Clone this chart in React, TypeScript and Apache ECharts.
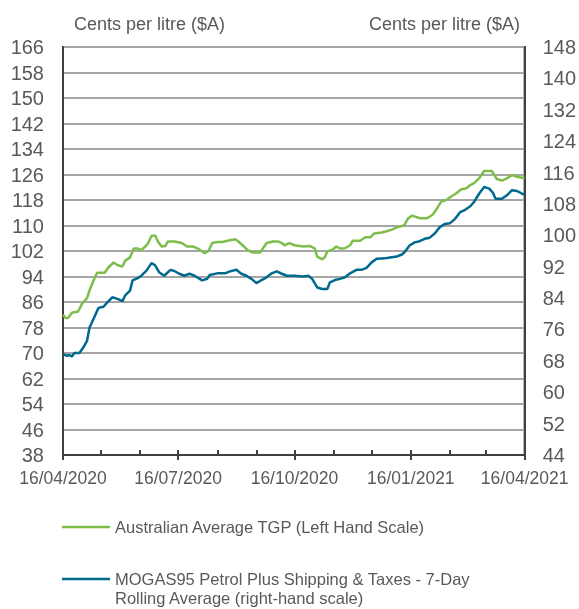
import React, { useEffect, useRef } from "react";
import * as echarts from "echarts";

// Australian Average TGP (left-hand scale), c/L
const tgpDates = [
  "2020-04-16","2020-04-18","2020-04-20","2020-04-23","2020-04-28","2020-05-01","2020-05-05","2020-05-07",
  "2020-05-11","2020-05-13","2020-05-19","2020-05-22","2020-05-26","2020-05-29","2020-06-02","2020-06-04",
  "2020-06-08","2020-06-11","2020-06-14","2020-06-17","2020-06-20","2020-06-22","2020-06-25","2020-06-28",
  "2020-06-30","2020-07-03","2020-07-06","2020-07-08","2020-07-13","2020-07-19","2020-07-23","2020-07-28",
  "2020-08-01","2020-08-06","2020-08-09","2020-08-12","2020-08-16","2020-08-20","2020-08-24","2020-08-30",
  "2020-09-01","2020-09-05","2020-09-09","2020-09-13","2020-09-19","2020-09-21","2020-09-24","2020-09-29",
  "2020-10-03","2020-10-06","2020-10-08","2020-10-12","2020-10-16","2020-10-23","2020-10-28","2020-11-01",
  "2020-11-03","2020-11-07","2020-11-09","2020-11-11","2020-11-15","2020-11-18","2020-11-21","2020-11-25",
  "2020-11-29","2020-12-01","2020-12-07","2020-12-11","2020-12-15","2020-12-18","2020-12-24","2020-12-28",
  "2021-01-01","2021-01-05","2021-01-09","2021-01-11","2021-01-14","2021-01-17","2021-01-21","2021-01-23",
  "2021-01-29","2021-02-02","2021-02-05","2021-02-09","2021-02-13","2021-02-17","2021-02-21","2021-02-25",
  "2021-03-01","2021-03-04","2021-03-07","2021-03-11","2021-03-15","2021-03-21","2021-03-25","2021-03-29",
  "2021-04-02","2021-04-06","2021-04-10","2021-04-16"
];
const tgpValues = [
  82, 81, 81, 82.6, 83, 85.4, 87.2, 89.7,
  93.5, 95.2, 95.2, 96.9, 98.4, 97.6, 97.1, 98.9,
  100, 102.8, 102.8, 102.3, 103.4, 104.2, 106.8, 106.8,
  105, 103.4, 103.6, 105, 105, 104.5, 103.4, 103.4,
  102.7, 101.3, 102, 104.5, 104.8, 104.8, 105.2, 105.7,
  105.2, 103.8, 102.3, 101.5, 101.5, 102.8, 104.5, 105,
  105, 104.5, 103.8, 104.5, 103.8, 103.4, 103.6, 102.8,
  100.2, 99.4, 100, 101.9, 102.4, 103.4, 102.8, 102.9,
  103.8, 105.2, 105.2, 106.3, 106.3, 107.5, 107.8, 108.2,
  108.7, 109.4, 109.8, 110.2, 112.3, 113.1, 112.6, 112.3,
  112.3, 113.3, 114.9, 117.5, 118, 119.1, 120.1, 121.4,
  121.7, 122.7, 123.3, 124.8, 127.1, 127.1, 124.6, 124.1,
  124.8, 125.8, 125.3, 124.8
];

// MOGAS95 plus shipping & taxes, 7-day rolling average (right-hand scale), c/L
const mogasDates = [
  "2020-04-16","2020-04-19","2020-04-21","2020-04-23","2020-04-25","2020-04-29","2020-05-02","2020-05-05",
  "2020-05-07","2020-05-10","2020-05-14","2020-05-18","2020-05-21","2020-05-25","2020-05-29","2020-06-02",
  "2020-06-04","2020-06-08","2020-06-10","2020-06-14","2020-06-17","2020-06-21","2020-06-25","2020-06-28",
  "2020-07-01","2020-07-05","2020-07-10","2020-07-13","2020-07-17","2020-07-21","2020-07-25","2020-07-29",
  "2020-08-04","2020-08-08","2020-08-10","2020-08-16","2020-08-22","2020-08-26","2020-08-31","2020-09-04",
  "2020-09-08","2020-09-12","2020-09-16","2020-09-20","2020-09-24","2020-09-28","2020-10-02","2020-10-06",
  "2020-10-10","2020-10-16","2020-10-23","2020-10-27","2020-10-30","2020-11-03","2020-11-07","2020-11-11",
  "2020-11-13","2020-11-17","2020-11-21","2020-11-25","2020-11-29","2020-12-04","2020-12-08","2020-12-12",
  "2020-12-16","2020-12-20","2020-12-24","2020-12-28","2021-01-01","2021-01-05","2021-01-09","2021-01-11",
  "2021-01-15","2021-01-19","2021-01-23","2021-01-27","2021-01-31","2021-02-04","2021-02-08","2021-02-12",
  "2021-02-16","2021-02-20","2021-02-24","2021-02-28","2021-03-04","2021-03-07","2021-03-11","2021-03-15",
  "2021-03-19","2021-03-22","2021-03-24","2021-03-29","2021-04-02","2021-04-06","2021-04-10","2021-04-14",
  "2021-04-16"
];
const mogasValues = [
  69.7, 69.3, 69.5, 69.1, 70, 70, 71.4, 73.1,
  76.5, 78.6, 81.5, 81.8, 82.9, 84.2, 83.8, 83.2,
  84.6, 85.9, 88.5, 89.1, 89.7, 91, 92.9, 92.3,
  90.6, 89.7, 91.2, 90.9, 90.2, 89.7, 90.2, 89.7,
  88.5, 88.9, 89.9, 90.3, 90.3, 90.8, 91.2, 90.2,
  89.7, 88.9, 87.8, 88.6, 89.3, 90.3, 90.8, 90.2,
  89.7, 89.7, 89.5, 89.7, 88.9, 86.7, 86.3, 86.3,
  88, 88.6, 88.9, 89.3, 90.3, 91.2, 91.2, 91.7,
  93.1, 94, 94.1, 94.2, 94.4, 94.6, 95.1, 95.7,
  97.4, 98.2, 98.5, 99.1, 99.4, 100.5, 102.1, 102.9,
  103.1, 104.2, 105.9, 106.5, 107.4, 108.5, 110.6, 112.3,
  111.9, 110.8, 109.3, 109.3, 110.2, 111.5, 111.3, 110.6,
  110.4
];

const xStart = "2020-04-16";
const xEnd = "2021-04-16";
const xLabelDates = ["2020-04-16", "2020-07-16", "2020-10-16", "2021-01-16", "2021-04-16"];
const xMinorTickDates = [
  "2020-04-16","2020-05-16","2020-06-16","2020-07-16","2020-08-16","2020-09-16","2020-10-16",
  "2020-11-16","2020-12-16","2021-01-16","2021-02-16","2021-03-16","2021-04-16"
];

const seriesNames = [
  "Australian Average TGP (Left Hand Scale)",
  "MOGAS95 Petrol Plus Shipping & Taxes - 7-Day\nRolling Average (right-hand scale)",
];
const unitLabel = "Cents per litre ($A)";

const GREEN = "#7DBE4B";
const BLUE = "#006A8E";
const TEXT = "#595959";
const FONT = "Liberation Sans, Arial, sans-serif";

function ts(s: string): number {
  const [y, m, d] = s.split("-").map(Number);
  return Date.UTC(y, m - 1, d);
}
function fmt(v: number): string {
  const d = new Date(v);
  const dd = String(d.getUTCDate()).padStart(2, "0");
  const mm = String(d.getUTCMonth() + 1).padStart(2, "0");
  return `${dd}/${mm}/${d.getUTCFullYear()}`;
}

export default function App() {
  const ref = useRef<HTMLDivElement>(null);
  useEffect(() => {
    if (!ref.current) return;
    const chart = echarts.init(ref.current, undefined, { renderer: "svg" });
    const min = ts(xStart);
    const max = ts(xEnd);
    chart.setOption({
      animation: false,
      textStyle: { fontFamily: FONT },
      grid: {
        left: 63, right: 54, top: 47, bottom: 154,
        show: true, borderColor: "#404040", borderWidth: 2,
      },
      xAxis: [
        {
          type: "value", min, max, position: "bottom", scale: true,
          axisLine: { show: true, lineStyle: { color: "#404040", width: 2 } },
          axisTick: { show: true, inside: true, length: 5, lineStyle: { color: "#404040", width: 2 }, customValues: xMinorTickDates.map(ts) },
          axisLabel: {
            show: true, customValues: xLabelDates.map(ts), formatter: (v: number) => fmt(v),
            color: TEXT, fontSize: 17.5, margin: 14, fontFamily: FONT,
          },
          splitLine: { show: false },
        },
        {
          type: "value", min, max, position: "bottom", scale: true,
          axisLine: { show: false },
          axisTick: { show: true, inside: false, length: 5, lineStyle: { color: "#404040", width: 2 }, customValues: xLabelDates.map(ts) },
          axisLabel: { show: false },
          splitLine: { show: false },
        },
      ],
      yAxis: [
        {
          type: "value", min: 38, max: 166, interval: 8, position: "left",
          axisLine: { show: true, lineStyle: { color: "#404040", width: 2 } },
          axisTick: { show: false },
          axisLabel: { color: TEXT, fontSize: 20, margin: 19, fontFamily: FONT },
          splitLine: { show: true, lineStyle: { color: "#A6A6A6", width: 2 } },
        },
        {
          type: "value", min: 44, max: 148, interval: 8, position: "right",
          axisLine: { show: true, lineStyle: { color: "#404040", width: 2 } },
          axisTick: { show: false },
          axisLabel: { color: TEXT, fontSize: 20, margin: 18, fontFamily: FONT },
          splitLine: { show: false },
        },
      ],
      series: [
        {
          name: seriesNames[0], type: "line", xAxisIndex: 0, yAxisIndex: 0,
          showSymbol: false, symbol: "none",
          lineStyle: { color: GREEN, width: 2.5 }, itemStyle: { color: GREEN },
          data: tgpDates.map((d, i) => [ts(d), tgpValues[i]]),
          z: 3,
        },
        {
          name: seriesNames[1], type: "line", xAxisIndex: 0, yAxisIndex: 1,
          showSymbol: false, symbol: "none",
          lineStyle: { color: BLUE, width: 2.5 }, itemStyle: { color: BLUE },
          data: mogasDates.map((d, i) => [ts(d), mogasValues[i]]),
          z: 4,
        },
      ],
      graphic: [
        { type: "text", left: 74, top: 15, style: { text: unitLabel, fill: TEXT, fontSize: 18, fontFamily: FONT } },
        { type: "text", right: 59, top: 15, style: { text: unitLabel, fill: TEXT, fontSize: 18, fontFamily: FONT } },
        { type: "line", shape: { x1: 62, y1: 527, x2: 110, y2: 527 }, style: { stroke: GREEN, lineWidth: 2.5 } },
        { type: "text", x: 115, y: 527, style: { text: seriesNames[0], fill: TEXT, fontSize: 16.5, fontFamily: FONT, verticalAlign: "middle" } },
        { type: "line", shape: { x1: 62, y1: 579, x2: 110, y2: 579 }, style: { stroke: BLUE, lineWidth: 2.5 } },
        { type: "text", x: 115, y: 569.5, style: { text: seriesNames[1], fill: TEXT, fontSize: 16.5, lineHeight: 19, fontFamily: FONT, verticalAlign: "top" } },
      ],
    });
    return () => chart.dispose();
  }, []);
  return <div ref={ref} style={{ position: "fixed", left: 0, top: 0, width: 579, height: 609 }} />;
}
